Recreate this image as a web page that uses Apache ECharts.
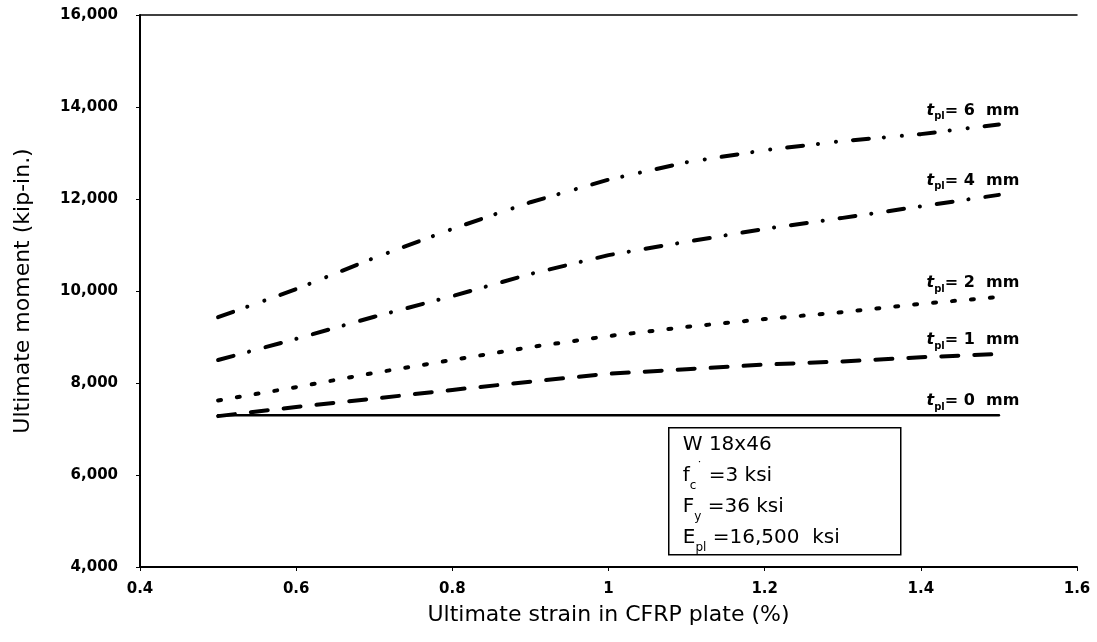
<!DOCTYPE html>
<html>
<head>
<meta charset="utf-8">
<script src="https://cdn.jsdelivr.net/npm/echarts@6/dist/echarts.min.js"></script>
<style>
  html, body { margin: 0; padding: 0; background: #ffffff; }
  #chart { width: 1097px; height: 642px; }
</style>
</head>
<body>
<div id="chart"></div>
<script>
// Ultimate strain in the CFRP plate (%)
const strain = [0.5, 0.6, 0.7, 0.8, 0.9, 1.0, 1.1, 1.2, 1.3, 1.4, 1.5];

// Ultimate moment (kip-in.) for each plate thickness t_pl
const moment0mm = [7300, 7300, 7300, 7300, 7300, 7300, 7300, 7300, 7300, 7300, 7300];
const moment1mm = [7280, 7480, 7660, 7850, 8030, 8200, 8300, 8400, 8470, 8560, 8630];
const moment2mm = [7620, 7910, 8220, 8500, 8780, 9020, 9220, 9390, 9540, 9720, 9870];
const moment4mm = [8500, 8960, 9440, 9890, 10370, 10780, 11070, 11350, 11590, 11840, 12090];
const moment6mm = [9430, 10040, 10720, 11350, 11930, 12420, 12800, 13060, 13260, 13410, 13620];

// Plate thickness of each curve (mm)
const plateThickness = [0, 1, 2, 4, 6];

// Section / material notes
const noteLines = [
  '{m|W 18x46}',
  '{m|f}{s|c}{p|\u02D9}{m| =3 ksi}',
  '{m|F}{s|y}{m| =36 ksi}',
  '{m|E}{s|pl}{m| =16,500  ksi}'
];

const BOLD = '"DejaVu Sans", "Liberation Sans", Arial, sans-serif';
const PLAIN = '"DejaVu Sans", "Liberation Sans", Arial, sans-serif';

const curveRich = {
  t: { fontFamily: BOLD, fontSize: 16, fontWeight: 'bold', fontStyle: 'italic', color: '#000', lineHeight: 22, verticalAlign: 'middle' },
  s: { fontFamily: BOLD, fontSize: 10, fontWeight: 'bold', color: '#000', lineHeight: 16, verticalAlign: 'bottom' },
  n: { fontFamily: BOLD, fontSize: 16, fontWeight: 'bold', color: '#000', lineHeight: 22, verticalAlign: 'middle' }
};

function curve(values, t, dash, width) {
  const data = strain.map((x, i) => [x, values[i]]);
  const last = data.length - 1;
  data[last] = {
    value: data[last],
    label: {
      show: true,
      position: 'top',
      distance: 3,
      offset: [-26, 0],
      formatter: '{t|t}{s|pl}{n|= ' + t + '  mm}',
      rich: curveRich
    }
  };
  return {
    type: 'line',
    data: data,
    symbol: 'circle',
    symbolSize: 0,
    showSymbol: true,
    silent: true,
    animation: false,
    label: { show: false },
    itemStyle: { color: '#000' },
    lineStyle: { color: '#000', width: width, type: dash, cap: 'round', join: 'round' }
  };
}

const chart = echarts.init(document.getElementById('chart'), null, { renderer: 'canvas' });

chart.setOption({
  backgroundColor: '#ffffff',
  animation: false,
  grid: { left: 140, right: 20, top: 15, bottom: 75, containLabel: false },
  xAxis: [
    {
      type: 'value',
      min: 0.4,
      max: 1.6,
      interval: 0.2,
      name: 'Ultimate strain in CFRP plate (%)',
      nameLocation: 'middle',
      nameGap: 37,
      nameTextStyle: { fontFamily: PLAIN, fontSize: 22, color: '#000' },
      axisLine: { show: true, lineStyle: { color: '#000', width: 2 } },
      axisTick: { show: true, length: 4, lineStyle: { color: '#000', width: 1 } },
      axisLabel: {
        margin: 15,
        fontFamily: BOLD, fontSize: 15, fontWeight: 'bold', color: '#000',
        formatter: v => String(Number(v.toFixed(1)))
      },
      splitLine: { show: false }
    },
    {
      type: 'value',
      position: 'top',
      min: 0.4,
      max: 1.6,
      interval: 0.2,
      axisLine: { show: true, lineStyle: { color: '#000', width: 1.5 } },
      axisTick: { show: false },
      axisLabel: { show: false },
      splitLine: { show: false }
    }
  ],
  yAxis: {
    type: 'value',
    min: 4000,
    max: 16000,
    interval: 2000,
    name: 'Ultimate moment (kip-in.)',
    nameLocation: 'middle',
    nameGap: 106,
    nameTextStyle: { fontFamily: PLAIN, fontSize: 22, color: '#000' },
    axisLine: { show: true, lineStyle: { color: '#000', width: 2 } },
    axisTick: { show: true, length: 4, lineStyle: { color: '#000', width: 1 } },
    axisLabel: {
      margin: 22,
      fontFamily: BOLD, fontSize: 15, fontWeight: 'bold', color: '#000',
      formatter: v => v.toLocaleString('en-US')
    },
    splitLine: { show: false }
  },
  series: [
    curve(moment0mm, plateThickness[0], 'solid', 2.5),
    curve(moment1mm, plateThickness[1], [17, 16], 4),
    curve(moment2mm, plateThickness[2], [3, 16], 4),
    curve(moment4mm, plateThickness[3], [16, 16, 0.1, 17], 4),
    curve(moment6mm, plateThickness[4], [16, 15, 0.1, 18, 0.1, 17], 4)
  ],
  graphic: [
    {
      type: 'group',
      left: 668,
      top: 427,
      children: [
        {
          type: 'rect',
          shape: { x: 0, y: 0, width: 232, height: 127 },
          style: { fill: '#ffffff', stroke: '#000', lineWidth: 1.5 }
        },
        {
          type: 'text',
          x: 14,
          y: 2,
          style: {
            text: noteLines.join('\n'),
            fill: '#000',
            rich: {
              m: { fontFamily: PLAIN, fontSize: 20, color: '#000', lineHeight: 31, verticalAlign: 'middle' },
              s: { fontFamily: PLAIN, fontSize: 12, color: '#000', lineHeight: 18, verticalAlign: 'bottom' },
              p: { fontFamily: PLAIN, fontSize: 12, color: '#000', lineHeight: 26, verticalAlign: 'top' }
            }
          }
        }
      ]
    }
  ]
});
</script>
</body>
</html>
